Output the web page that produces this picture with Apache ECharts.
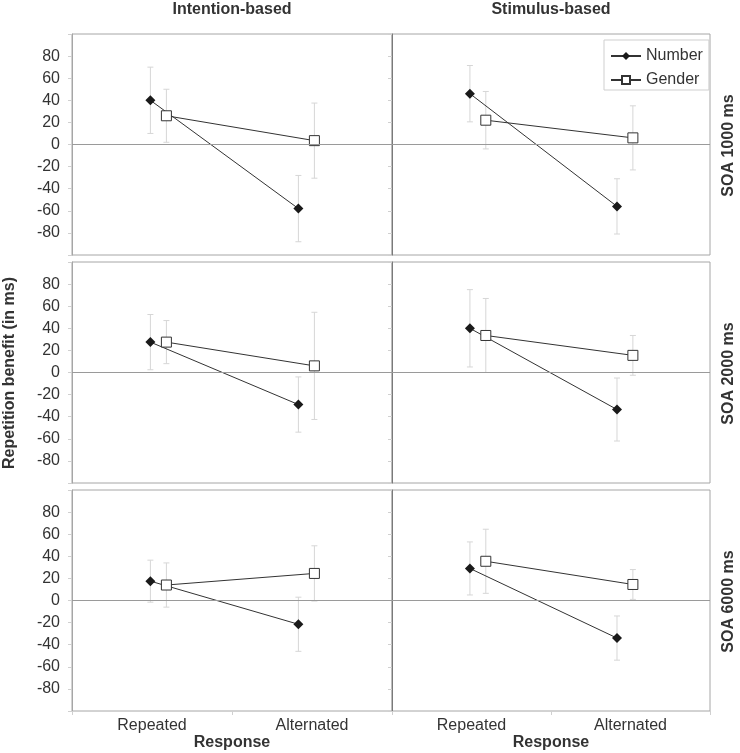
<!DOCTYPE html>
<html>
<head>
<meta charset="utf-8">
<script src="https://cdn.jsdelivr.net/npm/echarts@6/dist/echarts.min.js"></script>
<style>
html,body{margin:0;padding:0;background:#fff;}
#main{width:740px;height:753px;}
</style>
</head>
<body>
<div id="main"></div>
<script>
// ---- data ----
const categories = ['Repeated', 'Alternated'];
const colTitles = ['Intention-based', 'Stimulus-based'];
const rowTitles = ['SOA 1000 ms', 'SOA 2000 ms', 'SOA 6000 ms'];
const yTicks = [-80, -60, -40, -20, 0, 20, 40, 60, 80];
// x positions of markers on the 0..2 response scale (Excel-like offsets)
const numberX = [0.49, 1.415];
const genderX = [0.59, 1.515];
// panels in order: row1-left, row1-right, row2-left, row2-right, row3-left, row3-right
const numberMean = [[40, -58], [46, -56], [27.5, -29], [40, -33.5], [17.5, -21.5], [29, -34]];
const numberErr  = [[30, 30], [25.5, 25], [25, 25], [35, 28.5], [19, 24.5], [24, 20]];
const genderMean = [[26, 3.5], [22, 6], [27.5, 6], [33.5, 15.5], [14, 24.5], [35.5, 14.5]];
const genderErr  = [[24, 34], [26, 29], [19.5, 48.5], [33.5, 18], [20, 25], [29, 13.5]];

// ---- layout ----
const FONT = 'Liberation Sans, Arial, sans-serif';
const colLeft = [72, 392];
const colWidth = [320, 318];
const rowTop = [34, 262, 490];
const rowHeight = 221;

const grids = [], xAxes = [], yAxes = [], series = [];

function errRender(params, api) {
  const x = api.value(0), lo = api.value(1), hi = api.value(2);
  const a = api.coord([x, hi]), b = api.coord([x, lo]);
  const w = 3;
  const st = {stroke: '#d6d6d6', lineWidth: 1};
  return {type: 'group', children: [
    {type: 'line', shape: {x1: a[0], y1: a[1], x2: b[0], y2: b[1]}, style: st},
    {type: 'line', shape: {x1: a[0] - w, y1: a[1], x2: a[0] + w, y2: a[1]}, style: st},
    {type: 'line', shape: {x1: b[0] - w, y1: b[1], x2: b[0] + w, y2: b[1]}, style: st}
  ]};
}

for (let i = 0; i < 6; i++) {
  const r = Math.floor(i / 2), c = i % 2;
  const bottom = r === 2;
  grids.push({left: colLeft[c], top: rowTop[r], width: colWidth[c], height: rowHeight,
    show: true, borderColor: '#a6a6a6', borderWidth: 1, backgroundColor: 'transparent'});
  // category axis (labels/ticks)
  xAxes.push({type: 'category', gridIndex: i, data: categories, boundaryGap: true,
    position: 'bottom',
    axisLine: {show: false, onZero: false},
    axisTick: {show: bottom, length: 4, lineStyle: {color: '#d0d0d0'}},
    axisLabel: {show: bottom, fontSize: 16, color: '#333', fontFamily: FONT, margin: 7},
    splitLine: {show: false},
    name: bottom ? 'Response' : '', nameLocation: 'middle', nameGap: 24,
    nameTextStyle: {fontSize: 16, fontWeight: 'bold', color: '#333', fontFamily: FONT}
  });
  // value axis for marker positions
  xAxes.push({type: 'value', gridIndex: i, min: 0, max: 2, show: false, position: 'bottom'});
  yAxes.push({type: 'value', gridIndex: i, min: -100, max: 100, interval: 20,
    axisLine: {show: true, lineStyle: {color: c === 0 ? '#a6a6a6' : '#7a7a7a', width: 1}},
    axisTick: {show: true, length: 4, lineStyle: {color: '#d0d0d0'}},
    axisLabel: {show: c === 0, fontSize: 16, color: '#333', fontFamily: FONT, margin: 12,
      formatter: v => yTicks.indexOf(v) >= 0 ? String(v) : ''},
    splitLine: {show: false}
  });
  const xi = 2 * i + 1;
  series.push({type: 'custom', xAxisIndex: xi, yAxisIndex: i, renderItem: errRender,
    encode: {x: 0, y: [1, 2]}, silent: true, z: 1,
    data: [0, 1].map(k => [numberX[k], numberMean[i][k] - numberErr[i][k], numberMean[i][k] + numberErr[i][k]])
      .concat([0, 1].map(k => [genderX[k], genderMean[i][k] - genderErr[i][k], genderMean[i][k] + genderErr[i][k]])),
    markLine: {silent: true, symbol: 'none', label: {show: false}, animation: false,
      lineStyle: {color: '#9a9a9a', type: 'solid', width: 1}, data: [{yAxis: 0}]}
  });
  series.push({type: 'line', name: 'Number', xAxisIndex: xi, yAxisIndex: i, z: 3,
    data: [0, 1].map(k => [numberX[k], numberMean[i][k]]),
    symbol: 'diamond', symbolSize: 10,
    itemStyle: {color: '#1a1a1a'}, lineStyle: {color: '#333', width: 1}});
  series.push({type: 'line', name: 'Gender', xAxisIndex: xi, yAxisIndex: i, z: 4,
    data: [0, 1].map(k => [genderX[k], genderMean[i][k]]),
    symbol: 'rect', symbolSize: 10,
    itemStyle: {color: '#fff', borderColor: '#333', borderWidth: 1}, lineStyle: {color: '#333', width: 1}});
}

const graphics = [];
colTitles.forEach((t, c) => {
  graphics.push({type: 'text', x: colLeft[c] + colWidth[c] / 2, y: 9.5,
    style: {text: t, font: 'bold 16px ' + FONT, fill: '#333', textAlign: 'center', textVerticalAlign: 'middle'}});
});
rowTitles.forEach((t, r) => {
  graphics.push({type: 'text', x: 728.5, y: rowTop[r] + rowHeight / 2 + 1, rotation: Math.PI / 2,
    style: {text: t, font: 'bold 16px ' + FONT, fill: '#333', textAlign: 'center', textVerticalAlign: 'middle'}});
});
graphics.push({type: 'text', x: 10, y: 373, rotation: Math.PI / 2,
  style: {text: 'Repetition benefit (in ms)', font: 'bold 16px ' + FONT, fill: '#333', textAlign: 'center', textVerticalAlign: 'middle'}});

const chart = echarts.init(document.getElementById('main'), null, {renderer: 'canvas'});
chart.setOption({
  animation: false,
  backgroundColor: '#fff',
  textStyle: {fontFamily: FONT},
  grid: grids,
  xAxis: xAxes,
  yAxis: yAxes,
  legend: {data: ['Number', 'Gender'], orient: 'vertical', left: 604, top: 40,
    borderColor: '#cfcfcf', borderWidth: 1, padding: [8, 6, 2, 6], itemGap: 8,
    itemWidth: 30, itemHeight: 10, backgroundColor: '#fff',
    textStyle: {fontSize: 16, color: '#333', fontFamily: FONT}},
  graphic: graphics,
  series: series
});
</script>
</body>
</html>
